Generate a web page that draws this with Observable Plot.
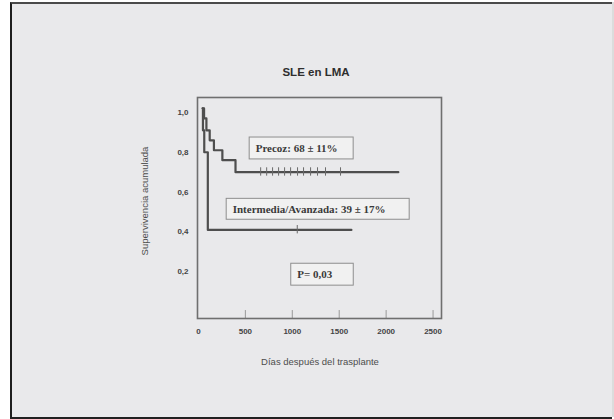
<!DOCTYPE html>
<html>
<head>
<meta charset="utf-8">
<script src="https://cdn.jsdelivr.net/npm/d3@7"></script>
<script src="https://cdn.jsdelivr.net/npm/@observablehq/plot@0.6"></script>
<style>
  html, body { margin: 0; padding: 0; background: #ffffff; }
  body { width: 614px; height: 419px; position: relative; overflow: hidden; font-family: "Liberation Sans", Arial, sans-serif; }
  #card {
    position: absolute; left: 10px; top: 2px; width: 602px; height: 417px;
    box-sizing: border-box; background: #e9e9eb;
    border-left: 2px solid #1e1e1e; border-top: 2px solid #4a4a4a;
    border-bottom: 2px solid #202020;
  }
  #edge { position: absolute; left: 612px; top: 2px; width: 2px; height: 415px; background: #dcdcdc; }
  #chart { position: absolute; left: 0; top: 0; }
  .lbl { position: absolute; color: #4d4d4d; white-space: nowrap; }
  #title { left: 0; width: 632px; top: 65px; text-align: center; font-weight: bold; font-size: 11.5px; line-height: 14px; color: #2e2e2e; }
  #xlabel { left: 0; width: 640px; top: 355px; text-align: center; font-size: 9.5px; line-height: 14px; }
  #ylabel { left: 145px; top: 201px; font-size: 9.5px; line-height: 12px; transform: translate(-50%, -50%) rotate(-90deg); }
</style>
</head>
<body>
<div id="card"></div>
<div id="edge"></div>
<div id="chart"></div>
<div class="lbl" id="title">SLE en LMA</div>
<div class="lbl" id="xlabel">Días después del trasplante</div>
<div class="lbl" id="ylabel">Supervivencia acumulada</div>
<script>
// Kaplan–Meier steps: [day, cumulative survival]
const precozSteps = [[45, 1.0], [60, 0.95], [85, 0.89], [120, 0.84], [165, 0.79], [255, 0.74], [395, 0.68], [2130, 0.68]];
const avanzadaSteps = [[45, 1.0], [48, 0.89], [62, 0.78], [100, 0.39], [1630, 0.39]];

// Censored observations (day) on each curve
const precozCensored = [663, 727, 790, 854, 918, 982, 1056, 1120, 1195, 1269, 1354, 1514];
const precozCensorLevel = 0.68;
const avanzadaCensored = [1053];
const avanzadaCensorLevel = 0.39;

// Axis ticks
const xTicks = [0, 500, 1000, 1500, 2000, 2500];
const yTicks = [0.2, 0.4, 0.6, 0.8, 1.0];

// Boxed annotations (anchored in day / survival units)
const notes = [
  {text: "Precoz: 68 ± 11%", x1: 546, x2: 1654, y1: 0.744, y2: 0.854},
  {text: "Intermedia/Avanzada: 39 ± 17%", x1: 301, x2: 2251, y1: 0.441, y2: 0.546},
  {text: "P= 0,03", x1: 989, x2: 1655, y1: 0.11, y2: 0.22}
];

const toRows = (steps, group) => steps.map(([t, s]) => ({t, s, group}));
const curves = [...toRows(precozSteps, "Precoz"), ...toRows(avanzadaSteps, "Intermedia/Avanzada")];
const censored = [
  ...precozCensored.map(t => ({t, s: precozCensorLevel})),
  ...avanzadaCensored.map(t => ({t, s: avanzadaCensorLevel}))
];
const yMin = -0.055, yMax = 1.055;

const chart = Plot.plot({
  width: 614,
  height: 419,
  marginLeft: 197,
  marginRight: 173,
  marginTop: 97,
  marginBottom: 101,
  style: {background: "transparent", overflow: "visible", fontFamily: "'Liberation Sans', Arial, sans-serif"},
  x: {domain: [-10, 2590], ticks: xTicks},
  y: {domain: [yMin, yMax], ticks: yTicks},
  marks: [
    Plot.rect(notes, {x1: "x1", x2: "x2", y1: "y1", y2: "y2", fill: "#f1f1f1", stroke: "#8e8e8e", strokeWidth: 1}),
    Plot.text(notes, {x: "x1", y: d => (d.y1 + d.y2) / 2, text: "text", textAnchor: "start", dx: 6,
      fontFamily: "'Liberation Serif', 'Times New Roman', serif", fontWeight: "bold", fontSize: 11, fill: "#3a3a3a"}),
    Plot.ruleX(xTicks.filter(d => d > 0), {x: d => d, y1: yMin, y2: yMin + 0.04, stroke: "#9a9a9a", strokeWidth: 1}),
    Plot.line(curves, {x: "t", y: "s", z: "group", curve: "step-after", stroke: "#4e4e4e", strokeWidth: 2.2}),
    Plot.ruleX(censored, {x: "t", y1: d => d.s - 0.02, y2: d => d.s + 0.022, stroke: "#6a6a6a", strokeWidth: 1}),
    Plot.frame({stroke: "#6f6f6f", strokeWidth: 1.6}),
    Plot.axisX({ticks: xTicks, tickSize: 0, tickPadding: 10, label: null, fontSize: 8, fontWeight: "bold", fill: "#444",
      tickFormat: d => String(d)}),
    Plot.axisY({ticks: yTicks, tickSize: 0, tickPadding: 9, label: null, dy: 4, fontSize: 8, fontWeight: "bold", fill: "#444",
      tickFormat: d => d.toFixed(1).replace(".", ",")})
  ]
});
document.getElementById("chart").appendChild(chart);
</script>
</body>
</html>
